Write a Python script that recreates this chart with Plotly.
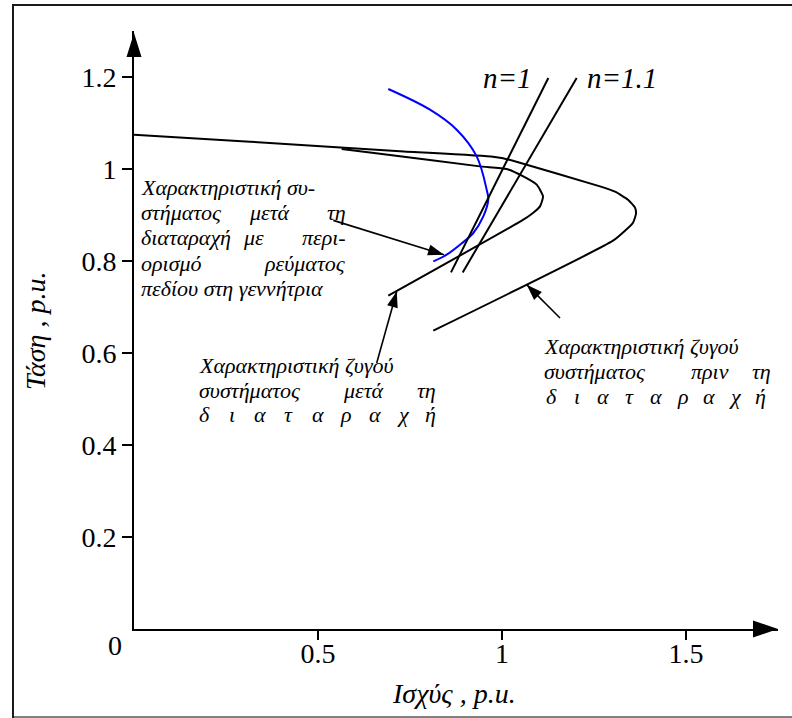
import plotly.graph_objects as go
import math

# ---------------- data ----------------
outer_p = [0.0, 0.3152, 0.7228, 0.9755, 1.0027, 1.0299, 1.2663, 1.3071, 1.3424, 1.3614, 1.3641, 1.3560, 1.3342, 1.3016, 0.8133]
outer_v = [1.0746, 1.0593, 1.0387, 1.0267, 1.0235, 1.0180, 0.9622, 0.9507, 0.9333, 0.9159, 0.9028, 0.8833, 0.8659, 0.8441, 0.6485]

inner_p = [0.5644, 0.6685, 0.9402, 1.0128, 1.0579, 1.0943, 1.1114, 1.1033, 1.0815, 1.0579, 0.6910]
inner_v = [1.0435, 1.0333, 1.0057, 1.0000, 0.9839, 0.9659, 0.9404, 0.9187, 0.9028, 0.8898, 0.7246]

blue_p = [0.6910, 0.8043, 0.8769, 0.9312, 0.9584, 0.9628, 0.9492, 0.9220, 0.8859, 0.8497, 0.8133]
blue_v = [1.1739, 1.1289, 1.0854, 1.0274, 0.9550, 0.9333, 0.8970, 0.8609, 0.8354, 0.8137, 0.7991]

n1_p = [0.8614, 1.1259]
n1_v = [0.7752, 1.1978]
n11_p = [0.8932, 1.2029]
n11_v = [0.7752, 1.1978]

# pointer arrows: tail -> head (data coordinates)
arrow_tail_p = [0.5416, 0.6595, 1.1576]
arrow_tail_v = [0.8883, 0.5783, 0.6761]
arrow_head_p = [0.8424, 0.7139, 1.0671]
arrow_head_v = [0.8137, 0.7339, 0.7485]

ytick_vals = [0.2, 0.4, 0.6, 0.8, 1.0, 1.2]
ytick_text = ["0.2", "0.4", "0.6", "0.8", "1", "1.2"]
xtick_vals = [0.5, 1.0, 1.5]
xtick_text = ["0.5", "1", "1.5"]

x_title = "Ισχύς , p.u."
y_title = "Τάση , p.u."

# ---------------- layout geometry ----------------
W, H = 792, 718
ML, MR, MT, MB = 134, 14, 31, 89
XR = [0, 1.75]
YR = [0, 1.3]
SERIF = "Liberation Serif"

def px2x(px):
    return XR[0] + (px - ML) / (W - ML - MR) * (XR[1] - XR[0])

def py2y(py):
    return YR[0] + (H - MB - py) / (H - MT - MB) * (YR[1] - YR[0])

def ppx(px):
    return (px - ML) / (W - ML - MR)

def ppy(py):
    return (H - MB - py) / (H - MT - MB)

SX = (W - ML - MR) / (XR[1] - XR[0])
SY = (H - MT - MB) / (YR[1] - YR[0])

fig = go.Figure()
line_black = dict(color="black", width=2)

fig.add_trace(go.Scatter(x=outer_p, y=outer_v, mode="lines",
                         line=dict(color="black", width=2, shape="spline", smoothing=0.5)))
fig.add_trace(go.Scatter(x=inner_p, y=inner_v, mode="lines",
                         line=dict(color="black", width=2, shape="spline", smoothing=0.5)))
fig.add_trace(go.Scatter(x=blue_p, y=blue_v, mode="lines",
                         line=dict(color="#0000ff", width=2, shape="spline", smoothing=1)))
fig.add_trace(go.Scatter(x=n1_p, y=n1_v, mode="lines", line=line_black))
fig.add_trace(go.Scatter(x=n11_p, y=n11_v, mode="lines", line=line_black))

shapes = []
# pointer arrows
for tx, ty, hx, hy in zip(arrow_tail_p, arrow_tail_v, arrow_head_p, arrow_head_v):
    fig.add_trace(go.Scatter(x=[tx, hx], y=[ty, hy], mode="lines",
                             line=dict(color="black", width=1.6)))
    dx = (hx - tx) * SX
    dy = (hy - ty) * SY
    L = math.hypot(dx, dy)
    ux, uy = dx / L, dy / L
    nx, ny = -uy, ux
    hl, hw = 16, 5.5
    p1 = (-hl * ux + hw * nx, -hl * uy + hw * ny)
    p2 = (-hl * ux - hw * nx, -hl * uy - hw * ny)
    shapes.append(dict(type="path", xref="x", yref="y", xsizemode="pixel", ysizemode="pixel",
                       xanchor=hx, yanchor=hy,
                       path=f"M0,0 L{p1[0]:.2f},{p1[1]:.2f} L{p2[0]:.2f},{p2[1]:.2f} Z",
                       fillcolor="black", line=dict(width=0)))

# axis arrowheads
shapes.append(dict(type="path", xref="paper", yref="paper", xsizemode="pixel", ysizemode="pixel",
                   xanchor=1.0, yanchor=0.0, path="M0,0 L-25,8.5 L-25,-8.5 Z",
                   fillcolor="black", line=dict(width=0)))
shapes.append(dict(type="path", xref="paper", yref="paper", xsizemode="pixel", ysizemode="pixel",
                   xanchor=0.0, yanchor=ppy(33), path="M0,0 L-7.5,-24 L7.5,-24 Z",
                   fillcolor="black", line=dict(width=0)))
# outer frame (right side lies beyond the picture)
shapes.append(dict(type="rect", xref="paper", yref="paper",
                   x0=ppx(13), x1=ppx(805), y0=ppy(717), y1=ppy(5),
                   line=dict(color="#1a1a1a", width=2), fillcolor="rgba(0,0,0,0)", layer="above"))
shapes.append(dict(type="line", xref="paper", yref="paper",
                   x0=ppx(14), x1=ppx(805), y0=ppy(717), y1=ppy(717),
                   line=dict(color="#808080", width=2), layer="above"))

annotations = []
TS = 22  # text size for the callout blocks

def word(text, px, baseline, anchor="left", size=TS):
    annotations.append(dict(text=text, x=px2x(px), y=py2y(baseline - 0.3375 * size),
                            xref="x", yref="y", xanchor=anchor, yanchor="middle",
                            showarrow=False, borderpad=0,
                            font=dict(family=SERIF, size=size, color="black", style="italic")))

def spread(letters, left, right, baseline):
    n = len(letters)
    for i, ch in enumerate(letters):
        if i == 0:
            word(ch, left, baseline, "left")
        elif i == n - 1:
            word(ch, right, baseline, "right")
        else:
            cx = left + 5 + (right - left - 10) * i / (n - 1)
            word(ch, cx, baseline, "center")

# block 1 (upper left)
word("Χαρακτηριστική συ-", 140, 195)
word("στήματος", 140, 220); word("μετά", 248, 220); word("τη", 347, 220, "right")
word("διαταραχή", 140, 245); word("με", 242, 245); word("περι-", 347, 245, "right")
word("ορισμό", 140, 270.5); word("ρεύματος", 347, 270.5, "right")
word("πεδίου στη γεννήτρια", 140, 295.5)

# block 2 (lower middle)
word("Χαρακτηριστική ζυγού", 198, 373)
word("συστήματος", 198, 397.5); word("μετά", 342, 397.5); word("τη", 437, 397.5, "right")
spread(list("διαταραχή"), 198, 437, 422)

# block 3 (right)
word("Χαρακτηριστική ζυγού", 543, 354)
word("συστήματος", 543, 379); word("πριν", 690, 379); word("τη", 772, 379, "right")
spread(list("διαταραχή"), 545, 767, 403.5)

# n labels
word("n=1", 507, 88, "center", size=29)
word("n=1.1", 622, 88, "center", size=29)

# "0" at origin
annotations.append(dict(text="0", x=ppx(115), y=ppy(645), xref="paper", yref="paper",
                        xanchor="center", yanchor="middle", showarrow=False,
                        font=dict(family=SERIF, size=28, color="black")))
# axis titles
annotations.append(dict(text=x_title, x=ppx(454), y=ppy(693), xref="paper", yref="paper",
                        xanchor="center", yanchor="middle", showarrow=False,
                        font=dict(family=SERIF, size=28, color="black", style="italic")))
annotations.append(dict(text=y_title, x=ppx(35), y=ppy(331), xref="paper", yref="paper",
                        xanchor="center", yanchor="middle", showarrow=False, textangle=-90,
                        font=dict(family=SERIF, size=28, color="black", style="italic")))

fig.update_layout(
    width=W, height=H,
    margin=dict(l=ML, r=MR, t=MT, b=MB, pad=0),
    paper_bgcolor="white", plot_bgcolor="white",
    showlegend=False,
    shapes=shapes,
    annotations=annotations,
    font=dict(family=SERIF),
    xaxis=dict(range=XR, showgrid=False, zeroline=False, showline=True, linecolor="black",
               linewidth=2, ticks="outside", ticklen=9, tickwidth=2, tickcolor="black",
               tickvals=xtick_vals, ticktext=xtick_text, ticklabelstandoff=-11,
               tickfont=dict(family=SERIF, size=28, color="black")),
    yaxis=dict(range=YR, showgrid=False, zeroline=False, showline=True, linecolor="black",
               linewidth=2, ticks="outside", ticklen=10, tickwidth=2, tickcolor="black",
               tickvals=ytick_vals, ticktext=ytick_text,
               tickfont=dict(family=SERIF, size=28, color="black")),
)

fig.write_html("out.html", config={"displayModeBar": False},
               post_script="document.body.style.margin='0';")
